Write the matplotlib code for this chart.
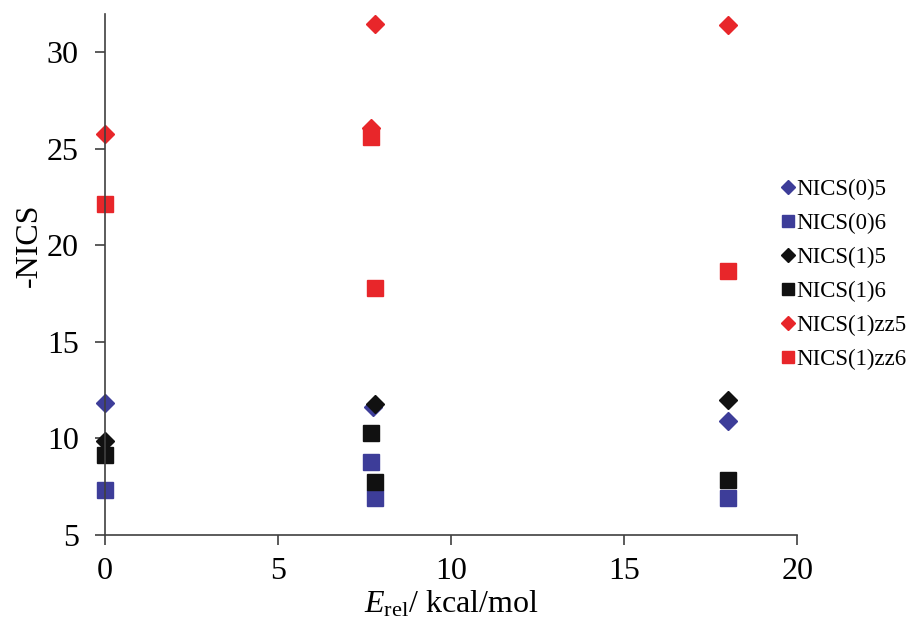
import matplotlib.pyplot as plt

plt.rcParams['font.family'] = ['Liberation Serif', 'DejaVu Serif']
plt.rcParams['mathtext.fontset'] = 'custom'
plt.rcParams['mathtext.rm'] = 'Liberation Serif'
plt.rcParams['mathtext.it'] = 'Liberation Serif:italic'

# data
x_0_5 = [0, 7.74, 18.0]
y_0_5 = [11.83, 11.6, 10.9]
x_0_6 = [0, 7.68, 7.8, 18.0]
y_0_6 = [7.32, 8.77, 6.9, 6.9]
x_1_5 = [0, 7.8, 18.0]
y_1_5 = [9.87, 11.77, 12.0]
x_1_6 = [0, 7.68, 7.8, 18.0]
y_1_6 = [9.13, 10.27, 7.74, 7.84]
x_zz5 = [0, 7.68, 7.8, 18.0]
y_zz5 = [25.78, 26.1, 31.45, 31.42]
x_zz6 = [0, 7.68, 7.8, 18.0]
y_zz6 = [22.15, 25.6, 17.8, 18.69]

blue = '#3d3d99'
black = '#111111'
red = '#e8262a'

series = [
    ('NICS(0)5', x_0_5, y_0_5, 'D', blue),
    ('NICS(0)6', x_0_6, y_0_6, 's', blue),
    ('NICS(1)5', x_1_5, y_1_5, 'D', black),
    ('NICS(1)6', x_1_6, y_1_6, 's', black),
    ('NICS(1)zz5', x_zz5, y_zz5, 'D', red),
    ('NICS(1)zz6', x_zz6, y_zz6, 's', red),
]

fig = plt.figure(figsize=(9.07, 6.27), dpi=100)
ax = fig.add_axes([0.116, 0.147, 0.763, 0.831])

for name, xs, ys, m, c in series:
    ms = 9.5 if m == 'D' else 12
    ax.plot(xs, ys, linestyle='none', marker=m, ms=ms, color=c,
            markeredgecolor=c, label=name, clip_on=False)

ax.set_xlim(0, 20)
ax.set_ylim(5, 32)
ax.set_xticks([0, 5, 10, 15, 20])
ax.set_yticks([5, 10, 15, 20, 25, 30])

for s in ['top', 'right']:
    ax.spines[s].set_visible(False)
for s in ['left', 'bottom']:
    ax.spines[s].set_color('#404040')
    ax.spines[s].set_linewidth(1.2)
ax.tick_params(axis='both', direction='out', length=7, width=1.2,
               color='#404040', labelsize=23)
ax.tick_params(axis='x', pad=9)
ax.tick_params(axis='y', pad=12)

ax.set_xlabel(r'$E_{\mathrm{rel}}$/ kcal/mol', fontsize=23, labelpad=2)
ax.set_ylabel('-NICS', fontsize=23)
ax.yaxis.set_label_coords(-0.088, 0.556)

ax.legend(loc='center left', bbox_to_anchor=(0.863, 0.563),
          bbox_transform=fig.transFigure, frameon=False,
          fontsize=16.5, markerscale=0.72, handlelength=0.5,
          handletextpad=0.1, labelspacing=0.56, borderpad=0,
          borderaxespad=0)

fig.savefig('out.png', dpi=100)
